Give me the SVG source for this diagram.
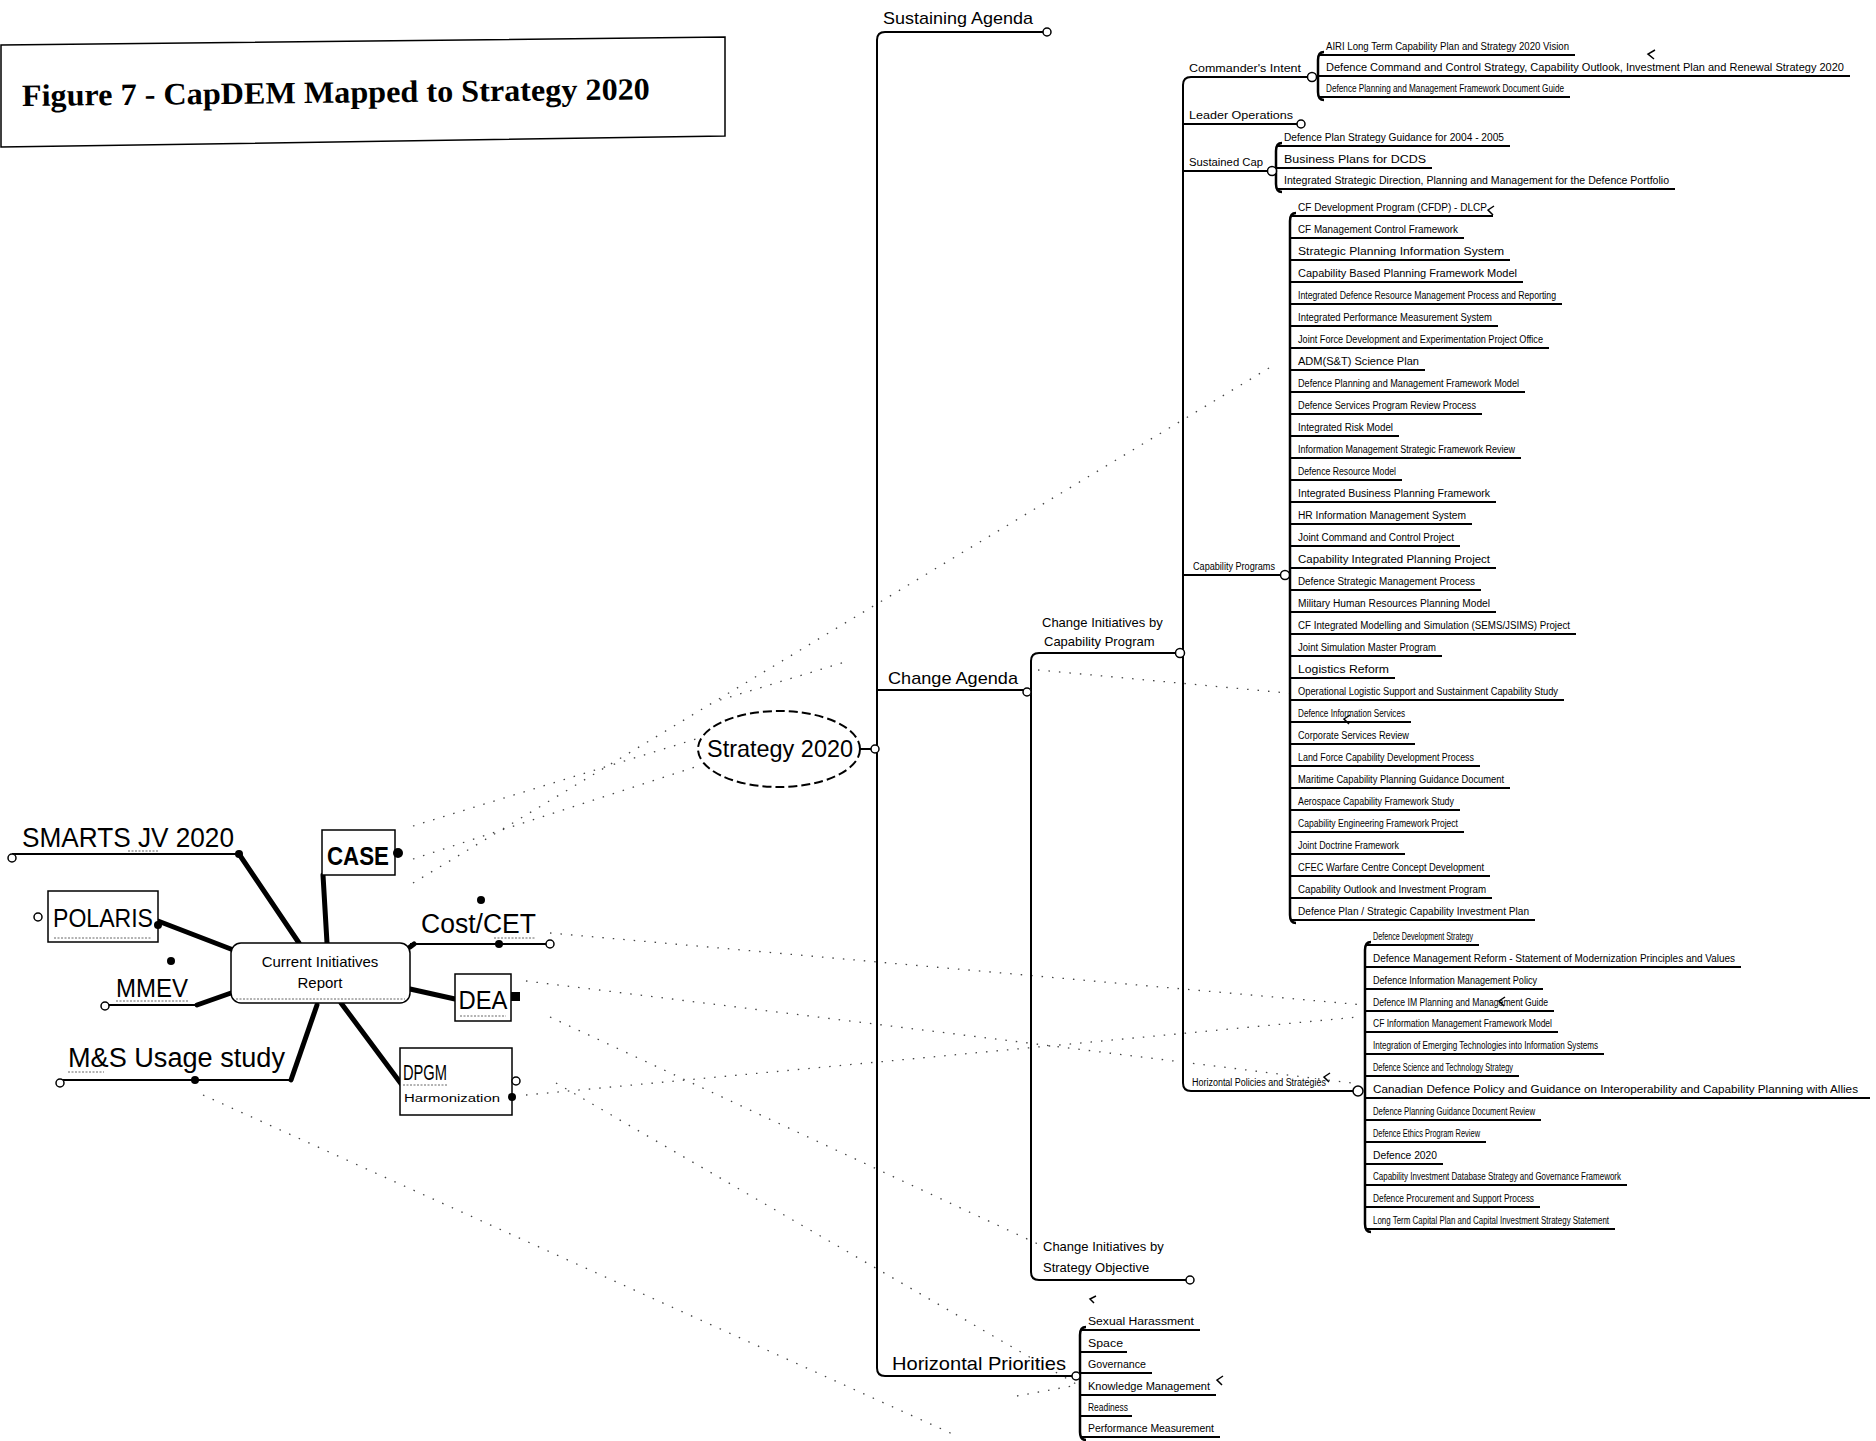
<svg xmlns="http://www.w3.org/2000/svg" width="1876" height="1441" viewBox="0 0 1876 1441">
<style>
text{font-family:"Liberation Sans",Arial,sans-serif;fill:#000}
.s{font-size:10px}
.m{font-size:13px}
.b{font-size:17px}
.L{font-size:27px}
.ln{stroke:#000;stroke-width:2;fill:none}
.ul{stroke:#000;stroke-width:2.2;fill:none}
.br{stroke:#000;stroke-width:2.5;fill:none}
.th{stroke:#000;stroke-width:5;stroke-linecap:round;fill:none}
.box{fill:#fff;stroke:#000;stroke-width:1.5}
.dt{stroke:#444;stroke-width:1.3;stroke-dasharray:1.5 9;fill:none}
.wv{stroke:#666;stroke-width:1;fill:none;stroke-dasharray:2 1.5}
.kn{fill:#fff;stroke:#000;stroke-width:1.5}
.kd{fill:#000}
.ar{stroke:#000;stroke-width:1.5;fill:none}
</style>
<rect width="1876" height="1441" fill="#fff"/>

<g id="title">
<polygon points="1,45 725,37 725,136 1,147" fill="#fff" stroke="#000" stroke-width="1.5"/>
<text x="22" y="106" transform="rotate(-0.6 22 106)" textLength="628" lengthAdjust="spacingAndGlyphs" style="font-family:'Liberation Serif','Times New Roman',serif;font-weight:bold;font-size:31px">Figure 7 - CapDEM Mapped to Strategy 2020</text>
</g>

<g id="connectors">
<path class="dt" d="M413 826L696 739"/>
<path class="dt" d="M413 859L698 766"/>
<path class="dt" d="M413 883L1274 365"/>
<path class="dt" d="M720 700L845 662"/>
<path class="dt" d="M550 933L1364 1005"/>
<path class="dt" d="M526 981L1352 1083"/>
<path class="dt" d="M526 1095L1358 1017"/>
<path class="dt" d="M550 1017L1038 1244"/>
<path class="dt" d="M203 1095L957 1436"/>
<path class="dt" d="M556 1083L1083 1388"/>
<path class="dt" d="M1038 670L1298 694"/>
<path class="dt" d="M1017 1396L1083 1384"/>
<path class="ar" d="M1655 50l-7 4 6 5"/>
<path class="ar" d="M1494 206l-6 4 5 5"/>
<path class="ar" d="M1505 997l-6 4 5 5"/>
<path class="ar" d="M1330 1073l-6 4 5 5"/>
<path class="ar" d="M1223 1376l-6 4 5 5"/>
<path class="ar" d="M1096 1296l-6 3 4 4"/>
<path class="ar" d="M1350 715l-6 4 5 5"/>
<path class="ln" d="M1047 32H885Q877 32 877 40V1368Q877 1376 885 1376H1074"/>
<path class="ln" d="M860 749H877"/>
<path class="ln" d="M877 690H1027"/>
<path class="ln" d="M1178 653H1039Q1031 653 1031 661V1272Q1031 1280 1039 1280H1190"/>
<path class="ln" d="M1027 692H1031"/>
<path class="ln" d="M1308 77H1191Q1183 77 1183 85V1083Q1183 1091 1191 1091H1354"/>
<path class="ln" d="M1183 124H1298"/>
<path class="ln" d="M1183 171H1268"/>
<path class="ln" d="M1183 575H1281"/>
<path class="th" d="M239 854L299 943"/>
<path class="th" d="M323 875L327 943"/>
<path class="th" d="M158 921L236 951"/>
<path class="th" d="M197 1005L231 993"/>
<path class="th" d="M291 1080L317 1005"/>
<path class="th" d="M410 947L414 944"/>
<path class="th" d="M410 989L455 999"/>
<path class="th" d="M341 1003L402 1085"/>
<path class="br" d="M1324 52Q1318 52 1318 60V92Q1318 100 1324 100"/>
<path class="br" d="M1282 143Q1276 143 1276 151V184Q1276 192 1282 192"/>
<path class="br" d="M1296 213Q1290 213 1290 221V915Q1290 923 1296 923"/>
<path class="br" d="M1371 942Q1365 942 1365 950V1224Q1365 1232 1371 1232"/>
<path class="br" d="M1086 1327Q1080 1327 1080 1335V1432Q1080 1440 1086 1440"/>
</g>

<g id="knobs">
<circle class="kn" cx="875" cy="749" r="4"/>
<circle class="kn" cx="1047" cy="32" r="4"/>
<circle class="kn" cx="1027" cy="692" r="4"/>
<circle class="kn" cx="1076" cy="1376" r="4"/>
<circle class="kn" cx="1180" cy="653" r="4.5"/>
<circle class="kn" cx="1190" cy="1280" r="4"/>
<circle class="kn" cx="1312" cy="77" r="4.5"/>
<circle class="kn" cx="1301" cy="124" r="4"/>
<circle class="kn" cx="1272" cy="171" r="4.5"/>
<circle class="kn" cx="1285" cy="575" r="4.5"/>
<circle class="kn" cx="1358" cy="1091" r="5"/>
</g>

<g id="strategy2020">
<ellipse cx="779" cy="749" rx="81" ry="38" fill="none" stroke="#000" stroke-width="2" stroke-dasharray="9 4"/>
<text x="780" y="757" text-anchor="middle" style="font-size:24px" textLength="146" lengthAdjust="spacingAndGlyphs">Strategy 2020</text>
</g>

<g id="sustaining-agenda"><text class="b" x="883" y="24" textLength="150" lengthAdjust="spacingAndGlyphs">Sustaining Agenda</text></g>
<g id="change-agenda"><text class="b" x="888" y="684" textLength="130" lengthAdjust="spacingAndGlyphs">Change Agenda</text></g>
<g id="horizontal-priorities"><text x="892" y="1370" style="font-size:19px" textLength="174" lengthAdjust="spacingAndGlyphs">Horizontal Priorities</text></g>

<g id="ci-capability"><text class="m" x="1042" y="627">Change Initiatives by</text><text class="m" x="1044" y="646">Capability Program</text></g>
<g id="ci-strategy"><text class="m" x="1043" y="1251">Change Initiatives by</text><text class="m" x="1043" y="1272">Strategy Objective</text></g>

<g id="cap-commanders"><text class="s" x="1189" y="72" textLength="112" lengthAdjust="spacingAndGlyphs">Commander's Intent</text></g>
<g id="cap-operations"><text class="s" x="1189" y="119" textLength="104" lengthAdjust="spacingAndGlyphs">Leader Operations</text></g>
<g id="cap-sustained"><text class="s" x="1189" y="166" textLength="74" lengthAdjust="spacingAndGlyphs">Sustained Cap</text></g>
<g id="cap-programs"><text class="s" x="1193" y="570" textLength="82" lengthAdjust="spacingAndGlyphs">Capability Programs</text></g>
<g id="cap-policies"><text class="s" x="1192" y="1086" textLength="134" lengthAdjust="spacingAndGlyphs">Horizontal Policies and Strategies</text></g>

<g id="commanders-items">
<g id="cmd-1"><text class="s" x="1326" y="50" textLength="243" lengthAdjust="spacingAndGlyphs">AIRI Long Term Capability Plan and Strategy 2020 Vision</text><path class="ul" d="M1318 55H1575"/></g>
<g id="cmd-2"><text class="s" x="1326" y="71" textLength="518" lengthAdjust="spacingAndGlyphs">Defence Command and Control Strategy, Capability Outlook, Investment Plan and Renewal Strategy 2020</text><path class="ul" d="M1318 76H1850"/></g>
<g id="cmd-3"><text class="s" x="1326" y="92" textLength="238" lengthAdjust="spacingAndGlyphs">Defence Planning and Management Framework Document Guide</text><path class="ul" d="M1318 97H1570"/></g>
</g>

<g id="sustained-items">
<g id="sus-1"><text class="s" x="1284" y="141" textLength="220" lengthAdjust="spacingAndGlyphs">Defence Plan Strategy Guidance for 2004 - 2005</text><path class="ul" d="M1276 146H1510"/></g>
<g id="sus-2"><text class="s" x="1284" y="163" textLength="142" lengthAdjust="spacingAndGlyphs">Business Plans for DCDS</text><path class="ul" d="M1276 168H1432"/></g>
<g id="sus-3"><text class="s" x="1284" y="184" textLength="385" lengthAdjust="spacingAndGlyphs">Integrated Strategic Direction, Planning and Management for the Defence Portfolio</text><path class="ul" d="M1276 189H1675"/></g>
</g>

<g id="program-items">
<g id="p0"><text class="s" x="1298" y="211" textLength="189" lengthAdjust="spacingAndGlyphs">CF Development Program (CFDP) - DLCP</text><path class="ul" d="M1290 216H1493"/></g>
<g id="p1"><text class="s" x="1298" y="233" textLength="160" lengthAdjust="spacingAndGlyphs">CF Management Control Framework</text><path class="ul" d="M1290 238H1464"/></g>
<g id="p2"><text class="s" x="1298" y="255" textLength="206" lengthAdjust="spacingAndGlyphs">Strategic Planning Information System</text><path class="ul" d="M1290 260H1510"/></g>
<g id="p3"><text class="s" x="1298" y="277" textLength="219" lengthAdjust="spacingAndGlyphs">Capability Based Planning Framework Model</text><path class="ul" d="M1290 282H1523"/></g>
<g id="p4"><text class="s" x="1298" y="299" textLength="258" lengthAdjust="spacingAndGlyphs">Integrated Defence Resource Management Process and Reporting</text><path class="ul" d="M1290 304H1562"/></g>
<g id="p5"><text class="s" x="1298" y="321" textLength="194" lengthAdjust="spacingAndGlyphs">Integrated Performance Measurement System</text><path class="ul" d="M1290 326H1498"/></g>
<g id="p6"><text class="s" x="1298" y="343" textLength="245" lengthAdjust="spacingAndGlyphs">Joint Force Development and Experimentation Project Office</text><path class="ul" d="M1290 348H1549"/></g>
<g id="p7"><text class="s" x="1298" y="365" textLength="121" lengthAdjust="spacingAndGlyphs">ADM(S&amp;T) Science Plan</text><path class="ul" d="M1290 370H1425"/></g>
<g id="p8"><text class="s" x="1298" y="387" textLength="221" lengthAdjust="spacingAndGlyphs">Defence Planning and Management Framework Model</text><path class="ul" d="M1290 392H1525"/></g>
<g id="p9"><text class="s" x="1298" y="409" textLength="178" lengthAdjust="spacingAndGlyphs">Defence Services Program Review Process</text><path class="ul" d="M1290 414H1482"/></g>
<g id="p10"><text class="s" x="1298" y="431" textLength="95" lengthAdjust="spacingAndGlyphs">Integrated Risk Model</text><path class="ul" d="M1290 436H1399"/></g>
<g id="p11"><text class="s" x="1298" y="453" textLength="217" lengthAdjust="spacingAndGlyphs">Information Management Strategic Framework Review</text><path class="ul" d="M1290 458H1521"/></g>
<g id="p12"><text class="s" x="1298" y="475" textLength="98" lengthAdjust="spacingAndGlyphs">Defence Resource Model</text><path class="ul" d="M1290 480H1402"/></g>
<g id="p13"><text class="s" x="1298" y="497" textLength="192" lengthAdjust="spacingAndGlyphs">Integrated Business Planning Framework</text><path class="ul" d="M1290 502H1496"/></g>
<g id="p14"><text class="s" x="1298" y="519" textLength="168" lengthAdjust="spacingAndGlyphs">HR Information Management System</text><path class="ul" d="M1290 524H1472"/></g>
<g id="p15"><text class="s" x="1298" y="541" textLength="156" lengthAdjust="spacingAndGlyphs">Joint Command and Control Project</text><path class="ul" d="M1290 546H1460"/></g>
<g id="p16"><text class="s" x="1298" y="563" textLength="192" lengthAdjust="spacingAndGlyphs">Capability Integrated Planning Project</text><path class="ul" d="M1290 568H1496"/></g>
<g id="p17"><text class="s" x="1298" y="585" textLength="177" lengthAdjust="spacingAndGlyphs">Defence Strategic Management Process</text><path class="ul" d="M1290 590H1481"/></g>
<g id="p18"><text class="s" x="1298" y="607" textLength="192" lengthAdjust="spacingAndGlyphs">Military Human Resources Planning Model</text><path class="ul" d="M1290 612H1496"/></g>
<g id="p19"><text class="s" x="1298" y="629" textLength="272" lengthAdjust="spacingAndGlyphs">CF Integrated Modelling and Simulation (SEMS/JSIMS) Project</text><path class="ul" d="M1290 634H1576"/></g>
<g id="p20"><text class="s" x="1298" y="651" textLength="138" lengthAdjust="spacingAndGlyphs">Joint Simulation Master Program</text><path class="ul" d="M1290 656H1442"/></g>
<g id="p21"><text class="s" x="1298" y="673" textLength="91" lengthAdjust="spacingAndGlyphs">Logistics Reform</text><path class="ul" d="M1290 678H1395"/></g>
<g id="p22"><text class="s" x="1298" y="695" textLength="260" lengthAdjust="spacingAndGlyphs">Operational Logistic Support and Sustainment Capability Study</text><path class="ul" d="M1290 700H1564"/></g>
<g id="p23"><text class="s" x="1298" y="717" textLength="107" lengthAdjust="spacingAndGlyphs">Defence Information Services</text><path class="ul" d="M1290 722H1411"/></g>
<g id="p24"><text class="s" x="1298" y="739" textLength="111" lengthAdjust="spacingAndGlyphs">Corporate Services Review</text><path class="ul" d="M1290 744H1415"/></g>
<g id="p25"><text class="s" x="1298" y="761" textLength="176" lengthAdjust="spacingAndGlyphs">Land Force Capability Development Process</text><path class="ul" d="M1290 766H1480"/></g>
<g id="p26"><text class="s" x="1298" y="783" textLength="206" lengthAdjust="spacingAndGlyphs">Maritime Capability Planning Guidance Document</text><path class="ul" d="M1290 788H1510"/></g>
<g id="p27"><text class="s" x="1298" y="805" textLength="156" lengthAdjust="spacingAndGlyphs">Aerospace Capability Framework Study</text><path class="ul" d="M1290 810H1460"/></g>
<g id="p28"><text class="s" x="1298" y="827" textLength="160" lengthAdjust="spacingAndGlyphs">Capability Engineering Framework Project</text><path class="ul" d="M1290 832H1464"/></g>
<g id="p29"><text class="s" x="1298" y="849" textLength="101" lengthAdjust="spacingAndGlyphs">Joint Doctrine Framework</text><path class="ul" d="M1290 854H1405"/></g>
<g id="p30"><text class="s" x="1298" y="871" textLength="186" lengthAdjust="spacingAndGlyphs">CFEC Warfare Centre Concept Development</text><path class="ul" d="M1290 876H1490"/></g>
<g id="p31"><text class="s" x="1298" y="893" textLength="188" lengthAdjust="spacingAndGlyphs">Capability Outlook and Investment Program</text><path class="ul" d="M1290 898H1492"/></g>
<g id="p32"><text class="s" x="1298" y="915" textLength="231" lengthAdjust="spacingAndGlyphs">Defence Plan / Strategic Capability Investment Plan</text><path class="ul" d="M1290 920H1535"/></g>
</g>

<g id="policy-items">
<g id="h0"><text class="s" x="1373" y="940" textLength="100" lengthAdjust="spacingAndGlyphs">Defence Development Strategy</text><path class="ul" d="M1365 945H1479"/></g>
<g id="h1"><text class="s" x="1373" y="962" textLength="362" lengthAdjust="spacingAndGlyphs">Defence Management Reform - Statement of Modernization Principles and Values</text><path class="ul" d="M1365 967H1741"/></g>
<g id="h2"><text class="s" x="1373" y="984" textLength="164" lengthAdjust="spacingAndGlyphs">Defence Information Management Policy</text><path class="ul" d="M1365 989H1543"/></g>
<g id="h3"><text class="s" x="1373" y="1006" textLength="175" lengthAdjust="spacingAndGlyphs">Defence IM Planning and Management Guide</text><path class="ul" d="M1365 1011H1554"/></g>
<g id="h4"><text class="s" x="1373" y="1027" textLength="179" lengthAdjust="spacingAndGlyphs">CF Information Management Framework Model</text><path class="ul" d="M1365 1032H1558"/></g>
<g id="h5"><text class="s" x="1373" y="1049" textLength="225" lengthAdjust="spacingAndGlyphs">Integration of Emerging Technologies into Information Systems</text><path class="ul" d="M1365 1054H1604"/></g>
<g id="h6"><text class="s" x="1373" y="1071" textLength="140" lengthAdjust="spacingAndGlyphs">Defence Science and Technology Strategy</text><path class="ul" d="M1365 1076H1519"/></g>
<g id="h7"><text class="s" x="1373" y="1093" textLength="485" lengthAdjust="spacingAndGlyphs">Canadian Defence Policy and Guidance on Interoperability and Capability Planning with Allies</text><path class="ul" d="M1365 1098H1870"/></g>
<g id="h8"><text class="s" x="1373" y="1115" textLength="162" lengthAdjust="spacingAndGlyphs">Defence Planning Guidance Document Review</text><path class="ul" d="M1365 1120H1541"/></g>
<g id="h9"><text class="s" x="1373" y="1137" textLength="107" lengthAdjust="spacingAndGlyphs">Defence Ethics Program Review</text><path class="ul" d="M1365 1142H1486"/></g>
<g id="h10"><text class="s" x="1373" y="1159" textLength="64" lengthAdjust="spacingAndGlyphs">Defence 2020</text><path class="ul" d="M1365 1164H1443"/></g>
<g id="h11"><text class="s" x="1373" y="1180" textLength="248" lengthAdjust="spacingAndGlyphs">Capability Investment Database Strategy and Governance Framework</text><path class="ul" d="M1365 1185H1627"/></g>
<g id="h12"><text class="s" x="1373" y="1202" textLength="161" lengthAdjust="spacingAndGlyphs">Defence Procurement and Support Process</text><path class="ul" d="M1365 1207H1540"/></g>
<g id="h13"><text class="s" x="1373" y="1224" textLength="236" lengthAdjust="spacingAndGlyphs">Long Term Capital Plan and Capital Investment Strategy Statement</text><path class="ul" d="M1365 1229H1615"/></g>
</g>

<g id="priority-items">
<g id="r0"><text class="s" x="1088" y="1325" textLength="106" lengthAdjust="spacingAndGlyphs">Sexual Harassment</text><path class="ul" d="M1080 1330H1200"/></g>
<g id="r1"><text class="s" x="1088" y="1347" textLength="35" lengthAdjust="spacingAndGlyphs">Space</text><path class="ul" d="M1080 1352H1127"/></g>
<g id="r2"><text class="s" x="1088" y="1368" textLength="58" lengthAdjust="spacingAndGlyphs">Governance</text><path class="ul" d="M1080 1373H1152"/></g>
<g id="r3"><text class="s" x="1088" y="1390" textLength="122" lengthAdjust="spacingAndGlyphs">Knowledge Management</text><path class="ul" d="M1080 1395H1216"/></g>
<g id="r4"><text class="s" x="1088" y="1411" textLength="40" lengthAdjust="spacingAndGlyphs">Readiness</text><path class="ul" d="M1080 1416H1132"/></g>
<g id="r5"><text class="s" x="1088" y="1432" textLength="126" lengthAdjust="spacingAndGlyphs">Performance Measurement</text><path class="ul" d="M1080 1437H1220"/></g>
</g>

<g id="current-initiatives">
<rect class="box" x="231" y="943" width="179" height="60" rx="10"/>
<path class="wv" d="M236 999H405"/>
<text x="320" y="967" text-anchor="middle" style="font-size:15px">Current Initiatives</text>
<text x="320" y="988" text-anchor="middle" style="font-size:15px">Report</text>
</g>
<g id="smarts">
<text class="L" x="22" y="847" textLength="212" lengthAdjust="spacingAndGlyphs">SMARTS JV 2020</text>
<path class="wv" d="M128 851H158"/>
<path class="ln" d="M12 854H239"/>
<circle class="kn" cx="12" cy="858" r="4"/>
<circle class="kd" cx="239" cy="854" r="4"/>
</g>
<g id="case">
<rect class="box" x="322" y="830" width="73" height="45"/>
<text x="358" y="865" text-anchor="middle" style="font-size:25px;font-weight:bold" textLength="62" lengthAdjust="spacingAndGlyphs">CASE</text>
<circle class="kd" cx="398" cy="853" r="5"/>
</g>
<g id="polaris">
<rect class="box" x="48" y="891" width="110" height="51"/>
<path class="wv" d="M54 938H152"/>
<text x="103" y="927" text-anchor="middle" style="font-size:26px" textLength="100" lengthAdjust="spacingAndGlyphs">POLARIS</text>
<circle class="kn" cx="38" cy="917" r="4"/>
<circle class="kd" cx="158" cy="925" r="4"/>
</g>
<g id="mmev">
<text x="152" y="997" text-anchor="middle" style="font-size:26px" textLength="72" lengthAdjust="spacingAndGlyphs">MMEV</text>
<path class="wv" d="M116 1001H188"/>
<path class="ln" d="M105 1005H197"/>
<circle class="kn" cx="105" cy="1006" r="4"/>
<circle class="kd" cx="171" cy="961" r="4"/>
</g>
<g id="ms-usage">
<text x="68" y="1067" style="font-size:27px" textLength="217" lengthAdjust="spacingAndGlyphs">M&amp;S Usage study</text>
<path class="wv" d="M68 1072H104"/>
<path class="ln" d="M60 1080H291"/>
<circle class="kn" cx="60" cy="1083" r="4"/>
<circle class="kd" cx="195" cy="1080" r="4"/>
</g>
<g id="cost-cet">
<text x="421" y="933" style="font-size:27px" textLength="115" lengthAdjust="spacingAndGlyphs">Cost/CET</text>
<path class="wv" d="M494 938H536"/>
<path class="ln" d="M410 944H547"/>
<circle class="kd" cx="499" cy="944" r="4"/>
<circle class="kn" cx="550" cy="944" r="4"/>
<circle class="kd" cx="481" cy="900" r="4"/>
</g>
<g id="dea">
<rect class="box" x="455" y="974" width="56" height="47"/>
<text x="483" y="1009" text-anchor="middle" style="font-size:26px" textLength="49" lengthAdjust="spacingAndGlyphs">DEA</text>
<path class="wv" d="M460 1016H506"/>
<rect class="kd" x="511" y="992" width="9" height="9"/>
</g>
<g id="dpgm">
<rect class="box" x="400" y="1048" width="112" height="67"/>
<text x="403" y="1080" style="font-size:22px" textLength="44" lengthAdjust="spacingAndGlyphs">DPGM</text>
<path class="wv" d="M403 1085H447"/>
<text class="s" x="404" y="1102" textLength="96" lengthAdjust="spacingAndGlyphs">Harmonization</text>
<circle class="kn" cx="516" cy="1081" r="4"/>
<circle class="kd" cx="512" cy="1097" r="4"/>
</g>
</svg>
